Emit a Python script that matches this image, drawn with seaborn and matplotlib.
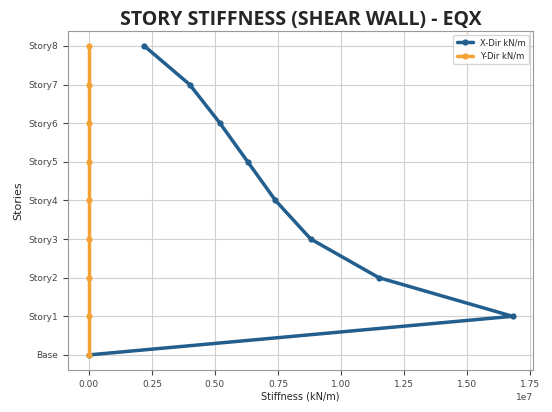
import pandas as pd
import matplotlib.pyplot as plt
import seaborn as sns

# story stiffness values (kN/m)
stories = ['Base', 'Story1', 'Story2', 'Story3', 'Story4', 'Story5', 'Story6', 'Story7', 'Story8']
x_dir = [0.0, 1.68e7, 1.15e7, 0.88e7, 0.74e7, 0.63e7, 0.52e7, 0.40e7, 0.22e7]
y_dir = [0.0, 0.0, 0.0, 0.0, 0.0, 0.0, 0.0, 0.0, 0.0]

df = pd.DataFrame({'Story': stories * 2,
                   'Stiffness': x_dir + y_dir,
                   'Direction': ['X-Dir kN/m'] * len(stories) + ['Y-Dir kN/m'] * len(stories)})

sns.set_style('ticks')
plt.rcParams['font.family'] = ['DejaVu Sans']

fig, ax = plt.subplots(figsize=(5.52, 4.12), dpi=100)
sns.lineplot(data=df, x='Stiffness', y='Story', hue='Direction', orient='y', sort=False,
             estimator=None, palette=['#235f8e', '#f3a236'], marker='o', markersize=4.5,
             linewidth=2.5, markeredgewidth=0, ax=ax)

ax.grid(True, color='#d0d0d0', linewidth=0.8)
for s in ax.spines.values():
    s.set_color('#999999')
ax.set_xlim(-0.083e7, 1.762e7)
ax.set_ylim(-0.39, 8.39)
ax.set_title('STORY STIFFNESS (SHEAR WALL) - EQX', fontsize=14, fontweight='bold',
             family='Open Sans', pad=4)
ax.set_xlabel('Stiffness (kN/m)', fontsize=7, labelpad=2)
ax.set_ylabel('Stories', fontsize=8)
ax.tick_params(labelsize=6.5, colors='#444444')
ax.xaxis.get_offset_text().set_fontsize(6.5)
ax.legend(title=None, fontsize=6, loc='upper right')

plt.subplots_adjust(left=0.123, right=0.966, top=0.925, bottom=0.102)
plt.savefig('out.png', dpi=100)
